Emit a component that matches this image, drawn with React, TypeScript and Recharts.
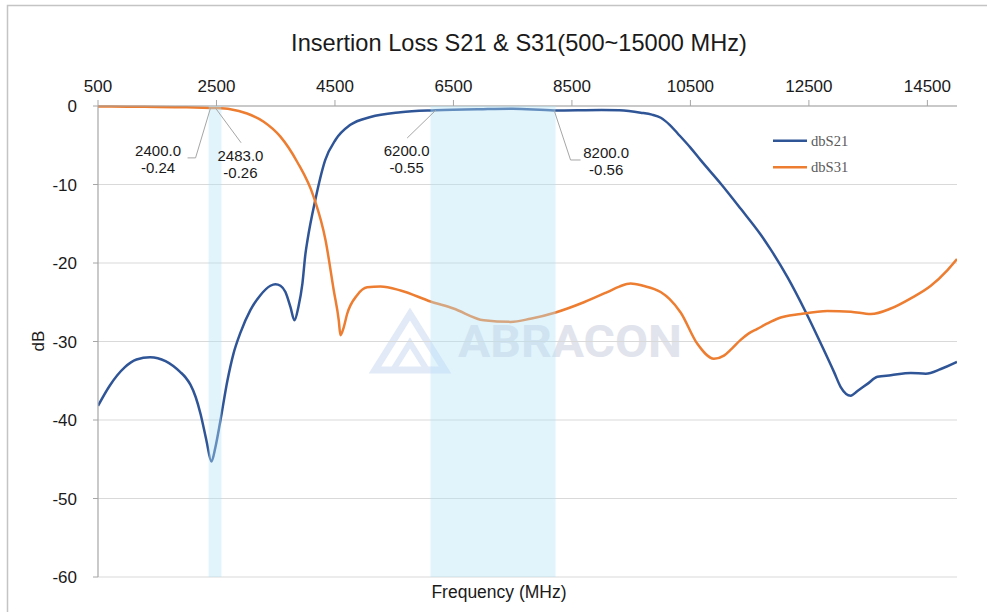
import React from 'react';
import { LineChart, Line, XAxis, YAxis, CartesianGrid, ReferenceArea, ReferenceDot } from 'recharts';

const chartTitle = 'Insertion Loss S21 & S31(500~15000 MHz)';
const xLabel = 'Frequency (MHz)';
const yLabel = 'dB';
const seriesNames = ['dbS21', 'dbS31'];
const seriesColors = ['#2f5597', '#ed7d31'];

const xTicks = [500, 2500, 4500, 6500, 8500, 10500, 12500, 14500];
const yTicks = [0, -10, -20, -30, -40, -50, -60];

const s21Freq = [500, 700, 950, 1150, 1380, 1640, 1890, 1980, 2060, 2150, 2230, 2330, 2414, 2481, 2566, 2684, 2785, 2903, 3072, 3241, 3410, 3495, 3580, 3664, 3748, 3816, 3883, 3951, 4002, 4036, 4167, 4335, 4510, 4760, 5100, 5607, 6200, 7000, 7500, 8200, 9000, 9300, 9660, 9850, 10000, 10150, 10285, 10500, 10673, 11013, 11350, 11688, 11857, 12138, 12450, 12729, 12925, 13037, 13206, 13320, 13488, 13657, 13882, 14220, 14473, 14727, 15000];
const s21Db = [-38.2, -35.6, -33.3, -32.3, -32.0, -32.5, -33.9, -34.6, -35.5, -37.1, -39.2, -42.6, -45.3, -43.5, -40.1, -35.0, -31.6, -28.9, -26.0, -24.1, -22.9, -22.7, -22.9, -23.7, -25.6, -27.3, -25.6, -22.6, -18.8, -17.1, -12.0, -6.9, -4.3, -2.4, -1.4, -0.8, -0.55, -0.4, -0.35, -0.56, -0.5, -0.55, -0.85, -1.1, -1.5, -2.4, -3.5, -5.3, -6.9, -9.9, -13.1, -16.4, -18.3, -21.8, -26.3, -30.7, -33.9, -35.8, -36.9, -36.3, -35.4, -34.5, -34.3, -34.0, -34.1, -33.5, -32.6];

const s31Freq = [500, 1000, 1500, 2000, 2400, 2483, 2734, 3016, 3297, 3579, 3861, 4142, 4341, 4480, 4564, 4592, 4648, 4705, 4874, 5043, 5268, 5607, 6113, 6500, 7013, 7463, 7800, 8224, 8702, 9097, 9300, 9490, 9700, 9997, 10150, 10335, 10617, 10897, 11066, 11200, 11348, 11480, 11630, 11800, 11968, 12362, 12813, 13207, 13545, 13882, 14220, 14558, 14840, 15000];
const s31Db = [-0.05, -0.08, -0.12, -0.17, -0.24, -0.26, -0.4, -0.95, -2.0, -3.9, -7.1, -11.6, -17.1, -23.5, -27.3, -29.2, -28.2, -26.5, -24.1, -23.1, -23.0, -23.5, -24.9, -25.8, -27.3, -27.5, -27.1, -26.3, -25.0, -23.7, -23.0, -22.6, -22.9, -23.7, -24.6, -26.3, -30.3, -32.2, -31.8, -30.9, -29.8, -29.0, -28.4, -27.7, -27.1, -26.5, -26.1, -26.2, -26.5, -25.8, -24.5, -22.9, -20.9, -19.5];

const bandStart = [2368, 6113];
const bandEnd = [2583, 8224];

const markerFreq = [2400, 2483, 6200, 8200];
const markerDb = [-0.24, -0.26, -0.55, -0.56];

// callout styling (pixel offsets relative to the marked point)
const calloutLayout = [
  { leader: [[-15, 50], [-23, 50]], tx: -52.5, ty: 43 },
  { leader: [[25.6, 34.7]], tx: 25, ty: 47.7 },
  { leader: [[-28.5, 27.7]], tx: -29, ty: 40.7 },
  { leader: [[16.4, 49.6], [26.4, 49.6]], tx: 52, ty: 42.3 },
];

const s21Data = s21Freq.map((f, i) => ({ f, v: s21Db[i] }));
const s31Data = s31Freq.map((f, i) => ({ f, v: s31Db[i] }));

const FONT = '"Liberation Sans", Arial, sans-serif';

function makeCallout(idx: number) {
  return (props: any) => {
    const { cx, cy } = props;
    if (cx == null || cy == null) return <g />;
    const lay = calloutLayout[idx];
    const pts = [[cx, cy], ...lay.leader.map(([dx, dy]) => [cx + dx, cy + dy])];
    const fs = 15;
    return (
      <g>
        <polyline points={pts.map((p) => p.join(',')).join(' ')} fill="none" stroke="#a6a6a6" strokeWidth={1} />
        <text x={cx + lay.tx} y={cy + lay.ty + fs * 0.355} textAnchor="middle" fontFamily={FONT} fontSize={fs} fill="#1a1a1a">
          {markerFreq[idx].toFixed(1)}
        </text>
        <text x={cx + lay.tx} y={cy + lay.ty + 16.6 + fs * 0.355} textAnchor="middle" fontFamily={FONT} fontSize={fs} fill="#1a1a1a">
          {markerDb[idx].toFixed(2)}
        </text>
      </g>
    );
  };
}

function Background() {
  return (
    <svg width={987} height={612} style={{ position: 'absolute', left: 0, top: 0 }}>
      <rect x={7.5} y={5.5} width={1000} height={700} fill="#fff" stroke="#c4c4c4" strokeWidth={1.5} />
      <text x={519} y={51} textAnchor="middle" fontFamily={FONT} fontSize={23.6} fill="#1a1a1a">{chartTitle}</text>
      {/* watermark */}
      <g>
        <polygon points="410,314 445,370 375,370" fill="none" stroke="#e2eaf8" strokeWidth={7} strokeLinejoin="miter" />
        <polyline points="393,370 410,343 427,370" fill="none" stroke="#e2eaf8" strokeWidth={6} />
        <text x={458} y={357} fontFamily='Roboto, "DejaVu Sans", sans-serif' fontWeight={700} fontSize={44} fill="#e1e4ec" textLength={224} lengthAdjust="spacingAndGlyphs">ABRACON</text>
      </g>
      <text x={499} y={598} textAnchor="middle" fontFamily={FONT} fontSize={17.5} fill="#1a1a1a">{xLabel}</text>
      <text x={44} y={341} textAnchor="middle" fontFamily={FONT} fontSize={17} fill="#1a1a1a" transform="rotate(-90 44 341)">{yLabel}</text>
      {seriesNames.map((n, i) => (
        <g key={n}>
          <line x1={773} x2={807} y1={140.7 + i * 26.6} y2={140.7 + i * 26.6} stroke={seriesColors[i]} strokeWidth={2.5} />
          <text x={811} y={140.7 + i * 26.6 + 5} fontFamily='"Liberation Serif", "Times New Roman", serif' fontSize={14.6} fill="#595959">{n}</text>
        </g>
      ))}
    </svg>
  );
}

export default function App() {
  return (
    <div style={{ position: 'absolute', left: 0, top: 0, width: 987, height: 612 }}>
      <Background />
      <div style={{ position: 'absolute', left: 0, top: 0 }}>
        <LineChart width={987} height={612} margin={{ top: 76, right: 30, bottom: 35, left: 38 }}>
          <CartesianGrid horizontal vertical={false} stroke="#d9d9d9" strokeWidth={1.2} />
          <XAxis
            dataKey="f"
            type="number"
            orientation="top"
            domain={[500, 15000]}
            ticks={xTicks}
            allowDataOverflow
            height={30}
            tickSize={6}
            tickMargin={8}
            axisLine={{ stroke: '#a6a6a6', strokeWidth: 1.2 }}
            tickLine={{ stroke: '#a6a6a6' }}
            tick={{ fontFamily: FONT, fontSize: 17, fill: '#1a1a1a' }}
          />
          <YAxis
            type="number"
            domain={[-60, 0]}
            ticks={yTicks}
            width={60}
            tickSize={5}
            tickMargin={16}
            axisLine={{ stroke: '#a6a6a6', strokeWidth: 1.2 }}
            tickLine={{ stroke: '#a6a6a6' }}
            tick={{ fontFamily: FONT, fontSize: 17, fill: '#1a1a1a' }}
          />
          <Line data={s21Data} dataKey="v" name={seriesNames[0]} type="monotone" stroke={seriesColors[0]} strokeWidth={2.5} dot={false} isAnimationActive={false} />
          <Line data={s31Data} dataKey="v" name={seriesNames[1]} type="monotone" stroke={seriesColors[1]} strokeWidth={2.5} dot={false} isAnimationActive={false} />
          {bandStart.map((b, i) => (
            <ReferenceArea key={i} x1={b} x2={bandEnd[i]} y1={-60} y2={0} fill="#b3e3f7" fillOpacity={0.4} stroke="none" zIndex={600} {...({} as any)} />
          ))}
          {markerFreq.map((f, i) => (
            <ReferenceDot key={i} x={f} y={markerDb[i]} r={0} zIndex={700} shape={makeCallout(i)} {...({} as any)} />
          ))}
        </LineChart>
      </div>
    </div>
  );
}
